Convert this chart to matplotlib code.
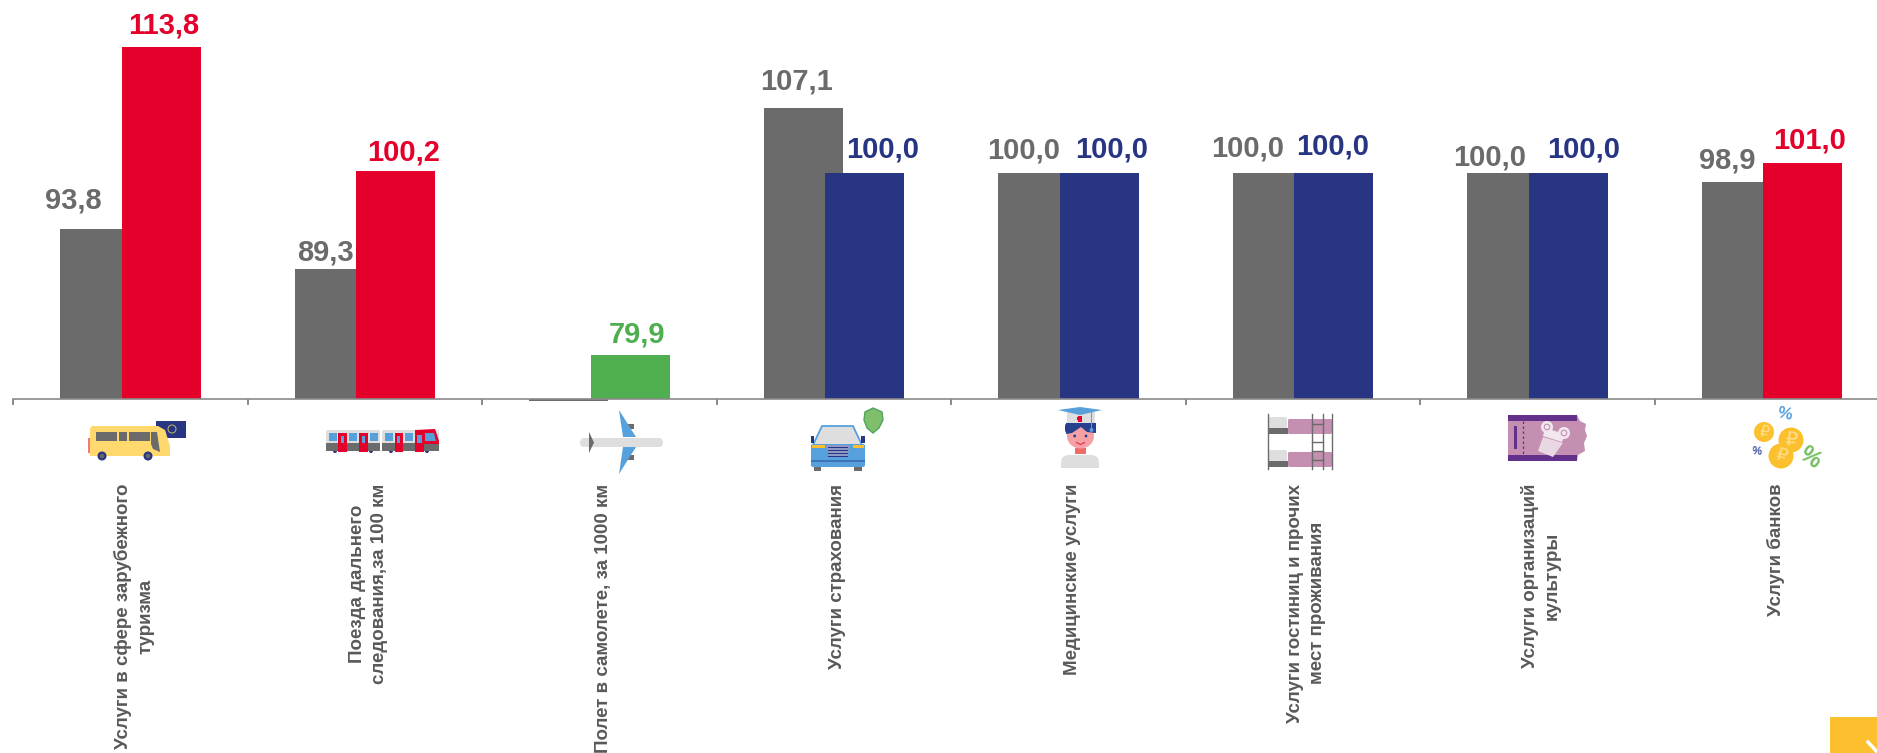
import matplotlib
matplotlib.use("Agg")
import matplotlib.pyplot as plt
from matplotlib.patches import Polygon, Circle, Rectangle, FancyBboxPatch, Ellipse

plt.rcParams['font.family'] = ['Liberation Sans', 'DejaVu Sans']

W, H = 1877, 753
categories = ["Услуги в сфере зарубежного\nтуризма", "Поезда дальнего\nследования,за 100 км",
              "Полет в самолете, за 1000 км", "Услуги страхования", "Медицинские услуги",
              "Услуги гостиниц и прочих\nмест проживания", "Услуги организаций\nкультуры", "Услуги банков"]
prev_values = [93.8, 89.3, 74.8, 107.1, 100.0, 100.0, 100.0, 98.9]
curr_values = [113.8, 100.2, 79.9, 100.0, 100.0, 100.0, 100.0, 101.0]
prev_labelled = [True, True, False, True, True, True, True, True]

GRAY, RED, BLUE, GREEN = '#6b6b6b', '#e4002b', '#273582', '#4fae50'
curr_colors = [RED, RED, GREEN, BLUE, BLUE, BLUE, BLUE, RED]
prev_text = '#6b6b6b'
# label nudges in pixels (dx, dy)
prev_off = [(-26.5, 19.7), (-9, 9.4), (0, 0), (-7, 18.2), (-13.5, 14.5), (-24.5, 16.5), (-16.5, 7.5), (-14, 13.5)]
curr_off = [(3, 13.5), (8, 10.2), (7, 12.6), (18.5, 15.5), (13, 15.5), (-0.5, 18.5), (15.5, 15.5), (7.5, 15.4)]

fig = plt.figure(figsize=(W / 100, H / 100), dpi=100, facecolor='white')
ax = fig.add_axes([13 / W, (H - 399) / H, (W - 13) / W, 399 / H])
STEP = 234.5
YMIN = 75
ax.set_xlim(0, (W - 13) / STEP)
ax.set_ylim(YMIN, YMIN + 399 / 9.06)
bw = 79 / STEP
x0 = 47 / STEP
x1 = 108.5 / STEP
xs = list(range(len(categories)))
ax.bar([x + x0 for x in xs], [v - YMIN for v in prev_values], bw, bottom=YMIN, align='edge',
       color=GRAY, zorder=2, clip_on=False)
ax.bar([x + x1 for x in xs], [v - YMIN for v in curr_values], bw, bottom=YMIN, align='edge',
       color=curr_colors, zorder=3)

FS = 21
for i, x in enumerate(xs):
    if prev_labelled[i]:
        ax.annotate(f"{prev_values[i]:.1f}".replace('.', ','), (x + x0 + bw / 2, prev_values[i]),
                    xytext=prev_off[i], textcoords='offset pixels', ha='center', va='baseline',
                    fontsize=FS, fontweight='bold', color=prev_text, zorder=5)
    ax.annotate(f"{curr_values[i]:.1f}".replace('.', ','), (x + x1 + bw / 2, curr_values[i]),
                xytext=curr_off[i], textcoords='offset pixels', ha='center', va='baseline',
                fontsize=FS, fontweight='bold', color=curr_colors[i], zorder=5)

for s in ['top', 'left', 'right']:
    ax.spines[s].set_visible(False)
ax.spines['bottom'].set_color('#8a8a8a')
ax.spines['bottom'].set_linewidth(1.2)
ax.spines['bottom'].set_zorder(4)
ax.set_yticks([])
ax.set_xticks(xs)
ax.set_xticklabels([])
ax.set_xticks([x + 0.5 + 4 / STEP for x in xs], labels=categories, minor=True)
ax.tick_params(axis='x', which='major', length=4.3, width=1.1, color='#6b6b6b')
ax.tick_params(axis='x', which='minor', length=0, pad=61, labelsize=13.5, labelcolor='#595959')
for t in ax.get_xticklabels(minor=True):
    t.set_rotation(90)
    t.set_va('top')
    t.set_ha('center')
    t.set_multialignment('center')
    t.set_fontweight('bold')
    t.set_linespacing(1.38)

# ---------- decorative icons, drawn in pixel space ----------
ov = fig.add_axes([0, 0, 1, 1], facecolor='none')
ov.set_xlim(0, W)
ov.set_ylim(H, 0)
ov.axis('off')

def rect(x0, y0, x1, y1, c, z=1):
    ov.add_patch(Rectangle((x0, y0), x1 - x0, y1 - y0, fc=c, ec='none', zorder=z))

def poly(pts, c, z=1, ec='none', lw=0):
    ov.add_patch(Polygon(pts, closed=True, fc=c, ec=ec, lw=lw, zorder=z))

def circ(x, y, r, c, z=1, ec='none', lw=0):
    ov.add_patch(Circle((x, y), r, fc=c, ec=ec, lw=lw, zorder=z))

def rrect(x0, y0, x1, y1, c, r=3, z=1):
    ov.add_patch(FancyBboxPatch((x0 + r, y0 + r), x1 - x0 - 2 * r, y1 - y0 - 2 * r,
                                boxstyle=f"round,pad={r},rounding_size={r}", fc=c, ec='none', zorder=z))

LB, YL, PK, PU, LG = '#56a0dc', '#ffd96e', '#c48fb0', '#63308c', '#dedede'

# bus
rect(156, 421, 186, 438, BLUE, 1)
circ(172, 429, 4, 'none', 2, ec='#c9b56a', lw=0.7)
rect(88, 438, 90, 453, '#ee7a7a', 1)
poly([(92, 426), (158, 426), (165, 430), (170, 446), (170, 456), (90, 456), (90, 428)], YL, 3)
rect(95.7, 431.7, 117, 440.7, GRAY, 4)
rect(119, 431.7, 127.3, 440.7, GRAY, 4)
rect(129, 431.7, 150, 440.7, GRAY, 4)
poly([(151, 432), (157, 432), (160, 452), (153, 449), (151, 444)], GRAY, 4)
for cx in (102, 148):
    circ(cx, 456, 4.5, BLUE, 5)
    circ(cx, 456, 2.3, '#666666', 6)

# train
rrect(326, 430, 380, 451, LG, 2, 1)
rrect(382, 430, 439, 451, LG, 2, 1)
rect(326, 443, 380, 451, GRAY, 2)
rect(382, 443, 439, 451, GRAY, 2)
for a, b in ((329, 337), (349, 357), (370, 378), (385, 393), (405, 413)):
    rect(a, 433, b, 441, LB, 3)
for a, b in ((338.5, 347), (359.5, 368), (395, 403)):
    rect(a, 433, b, 452, RED, 3)
    rect(a + 2.5, 436, b - 2.5, 443, LB, 4)
poly([(415, 430), (435, 429), (439, 441), (439, 444), (424, 444), (424, 452), (415, 452)], RED, 3)
poly([(425, 433), (434, 433), (436, 441), (425, 441)], LB, 4)
rect(417, 435, 422, 443, LB, 4)
for cx in (335, 371, 391, 427):
    circ(cx, 451, 2, BLUE, 0.5)

# plane
poly([(619, 410), (636, 437), (623, 437)], LB, 2)
poly([(623, 447), (636, 447), (619, 474)], LB, 2)
rect(626, 424, 634, 429, GRAY, 1)
rect(626, 455, 634, 460, GRAY, 1)
rrect(580, 438, 663, 447, LG, 4.4, 3)
poly([(589, 432), (594, 442.5), (589, 453)], GRAY, 4)

# car + shield
poly([(822, 426), (853, 426), (862, 445), (813, 445)], LG, 2, ec=LB, lw=1.3)
rrect(811, 444, 865, 467, LB, 2, 3)
rect(814, 465, 821, 471, GRAY, 2)
rect(854, 465, 862, 471, GRAY, 2)
rect(811, 436, 814.5, 443, BLUE, 2)
rect(861.5, 436, 865, 443, BLUE, 2)
rect(812, 444.7, 825, 448, '#fcc02e', 4)
rect(853, 444.7, 864, 448, '#fcc02e', 4)
poly([(826, 445), (850, 445), (847, 457), (829, 457)], '#8f97c4', 4)
for y in (447, 450, 453, 455.5):
    rect(828, y, 848, y + 1.1, BLUE, 5)
rect(811, 459.5, 865, 461.5, '#3b75b8', 5)
poly([(873, 408), (882, 412), (883, 420), (879, 428), (873, 433), (867, 428), (864, 420), (865, 412)],
     '#7fbf6c', 3, ec='#4fa55a', lw=1)

# doctor
rect(1067, 412, 1095, 424, LG, 1)
poly([(1058, 410), (1080, 407), (1102, 410), (1080, 415)], LB, 2)
rect(1091, 411, 1092.3, 429, LB, 6)
circ(1091.5, 430, 2, LB, 6)
rect(1078.3, 416, 1081.7, 421.5, RED, 3)
rect(1077.5, 417.4, 1082.5, 420, RED, 3)
rrect(1065, 423, 1096, 433, '#263f8f', 3, 2)
ov.add_patch(Ellipse((1080.5, 436), 27, 25, fc='#f4a0a5', ec='none', zorder=3))
poly([(1066, 434), (1072, 433), (1081, 427), (1081, 423), (1066, 423)], '#263f8f', 4)
poly([(1081, 423), (1081, 427), (1087, 432), (1096, 433), (1096, 423)], '#263f8f', 4)
circ(1074.7, 436, 1.4, '#263f8f', 5)
circ(1086, 436, 1.4, '#263f8f', 5)
ov.plot([1076.5, 1080.5, 1084.5], [442.5, 444.5, 442.5], color='#e4405a', lw=1, zorder=5)
rect(1075, 448, 1086, 454, '#ef6a68', 2)
rrect(1061, 455, 1099, 474, LG, 8, 1)
rect(1055, 468, 1105, 476, 'white', 2)

# bunk beds
for y0 in (0, 33):
    rrect(1269, 417 + y0, 1287, 430 + y0, LG, 2, 1)
    rect(1269, 428 + y0, 1288, 434 + y0, GRAY, 2)
    rrect(1288, 419 + y0, 1332, 434 + y0, PK, 1.5, 1)
for x in (1268.3, 1312.3, 1323, 1331.7):
    ov.plot([x, x], [414, 469], color='#6b6b6b', lw=1, zorder=4)
for y in (424, 442, 451, 460):
    ov.plot([1312.3, 1323], [y, y], color='#6b6b6b', lw=1, zorder=4)

# culture ticket
poly([(1508, 415), (1577, 415), (1580, 421), (1586, 424), (1585, 430), (1587, 436), (1584, 443),
      (1585, 451), (1578, 455), (1577, 461), (1508, 461)], PK, 1)
rect(1508, 415, 1577, 421, PU, 2)
rect(1508, 455, 1577, 461, PU, 2)
rect(1514, 426, 1517, 449, PU, 2)
ov.plot([1523, 1523], [421, 455], color=PU, lw=0.9, ls=(0, (2, 2)), zorder=2)
poly([(1543, 437), (1563, 443), (1553, 457), (1538, 451)], '#ead7e4', 3)
poly([(1545, 428), (1565, 434), (1562, 442), (1543, 436)], '#f3e7ef', 3)
for cx, cy in ((1547, 427), (1564, 433)):
    circ(cx, cy, 6, '#f3e7ef', 4)
    circ(cx, cy, 2.8, 'none', 5, ec=PK, lw=0.8)

# bank coins
COIN = '#fcc02e'
circ(1764, 432, 10, COIN, 1)
circ(1781, 456, 12.5, COIN, 2)
circ(1791, 440, 12.5, COIN, 3)
for cx, cy, fs, rot in ((1764, 432, 11, -10), (1781, 456, 13, -15), (1791, 440, 14, -5)):
    ov.text(cx, cy, "\u20bd", fontsize=fs, rotation=rot, color='#ffe08a', ha='center', va='center',
            family=['DejaVu Sans'], zorder=6)
ov.text(1785, 414, "%", fontsize=12, rotation=-12, color=LB, fontweight='bold', ha='center', va='center', zorder=6)
ov.text(1757, 451, "%", fontsize=8, rotation=-5, color='#3b4a9e', fontweight='bold', ha='center', va='center', zorder=6)
ov.text(1810, 458, "%", fontsize=17, rotation=-35, color='#74bd5e', fontweight='bold', ha='center', va='center', zorder=6)

# corner tab
rect(1830, 717, 1877, 753, '#fcc02e', 1)
ov.plot([1868, 1878], [742, 753], color='white', lw=2.5, zorder=2)

fig.savefig('out.png', dpi=100)
